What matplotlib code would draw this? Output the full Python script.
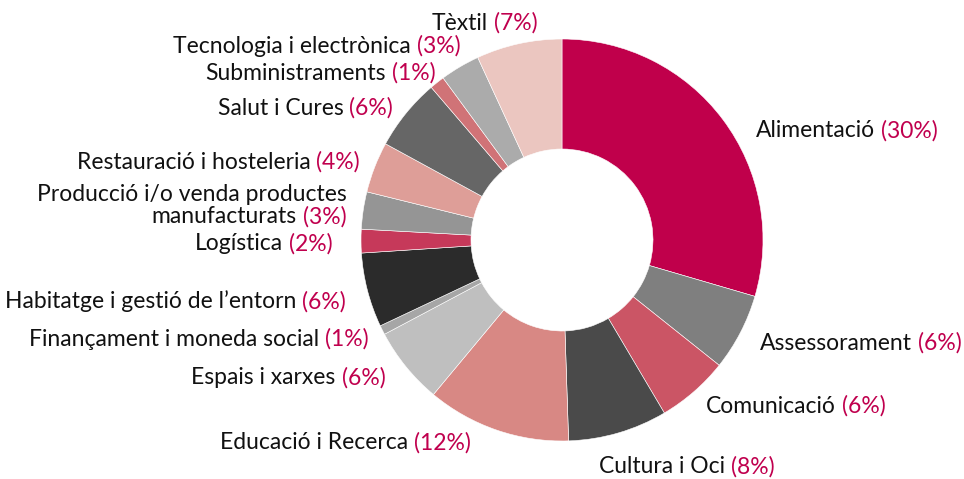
import numpy as np
import matplotlib.pyplot as plt

plt.rcParams['font.family'] = ['Lato', 'DejaVu Sans']

sectors = ["Alimentació", "Assessorament", "Comunicació", "Cultura i Oci",
           "Educació i Recerca", "Espais i xarxes", "Finançament i moneda social",
           "Habitatge i gestió de l\u2019entorn", "Logística",
           "Producció i/o venda productes\nmanufacturats", "Restauració i hosteleria",
           "Salut i Cures", "Subministraments", "Tecnologia i electrònica", "Tèxtil"]
values = [29.6, 6.2, 5.8, 8.0, 11.6, 6.2, 0.75, 6.0, 1.9, 3.0, 4.1, 5.8, 1.2, 3.2, 6.9]
pct_labels = ["30%", "6%", "6%", "8%", "12%", "6%", "1%", "6%", "2%", "3%", "4%",
              "6%", "1%", "3%", "7%"]
colors = ["#c0004b", "#7f7f7f", "#cb5565", "#4a4a4a", "#d88884", "#bfbfbf", "#a6a6a6",
          "#2b2b2b", "#c6395a", "#959595", "#de9e98", "#666666", "#d07377", "#ababab",
          "#ebc6c0"]

# label nudges in pixels (dx right, dy down) from the default spot
nudges = [(17, 22), (2, 0), (-1, -2), (-25, 13), (-19, -8), (-5, -3), (4, -1), (-2, 5),
          (-8, 1), (3, 8), (4, 1), (3, 6), (11, 5), (11, -5), (23, -2)]

W, H = 964, 479
fig = plt.figure(figsize=(W / 100, H / 100), dpi=100)
ax = fig.add_axes([0, 0, 1, 1])

cx, cy, R = 562, 239, 201
wedges, _ = ax.pie(values, colors=colors, startangle=90, counterclock=False,
                   radius=R, center=(cx, cy), frame=True,
                   wedgeprops=dict(width=110, edgecolor="white", linewidth=0.4))
ax.set_xlim(0, W)
ax.set_ylim(0, H)
ax.set_aspect("equal")
ax.axis("off")

fs = 16.5
gap = 6
renderer = fig.canvas.get_renderer()

for w, name, pct, (dx, dy) in zip(wedges, sectors, pct_labels, nudges):
    mid = np.deg2rad((w.theta1 + w.theta2) / 2)
    x = cx + 1.1 * R * np.cos(mid) + dx
    y = cy + 1.1 * R * np.sin(mid) - dy - 8
    lines = name.split("\n")
    if np.cos(mid) >= -0.2 and name != "Tèxtil":
        t = ax.text(x, y, lines[-1], ha="left", va="baseline", fontsize=fs, color="#111111")
        wd = t.get_window_extent(renderer).width
        ax.text(x + wd + gap, y, "(" + pct + ")", ha="left", va="baseline",
                fontsize=fs, color="#c0004e")
    else:
        t = ax.text(x, y, "(" + pct + ")", ha="right", va="baseline", fontsize=fs,
                    color="#c0004e")
        wd = t.get_window_extent(renderer).width
        ax.text(x - wd - gap, y, lines[-1], ha="right", va="baseline", fontsize=fs,
                color="#111111")
        for k, line in enumerate(reversed(lines[:-1])):
            ax.text(x, y + 22 * (k + 1), line, ha="right", va="baseline", fontsize=fs,
                    color="#111111")

fig.savefig("out.png", dpi=100)
